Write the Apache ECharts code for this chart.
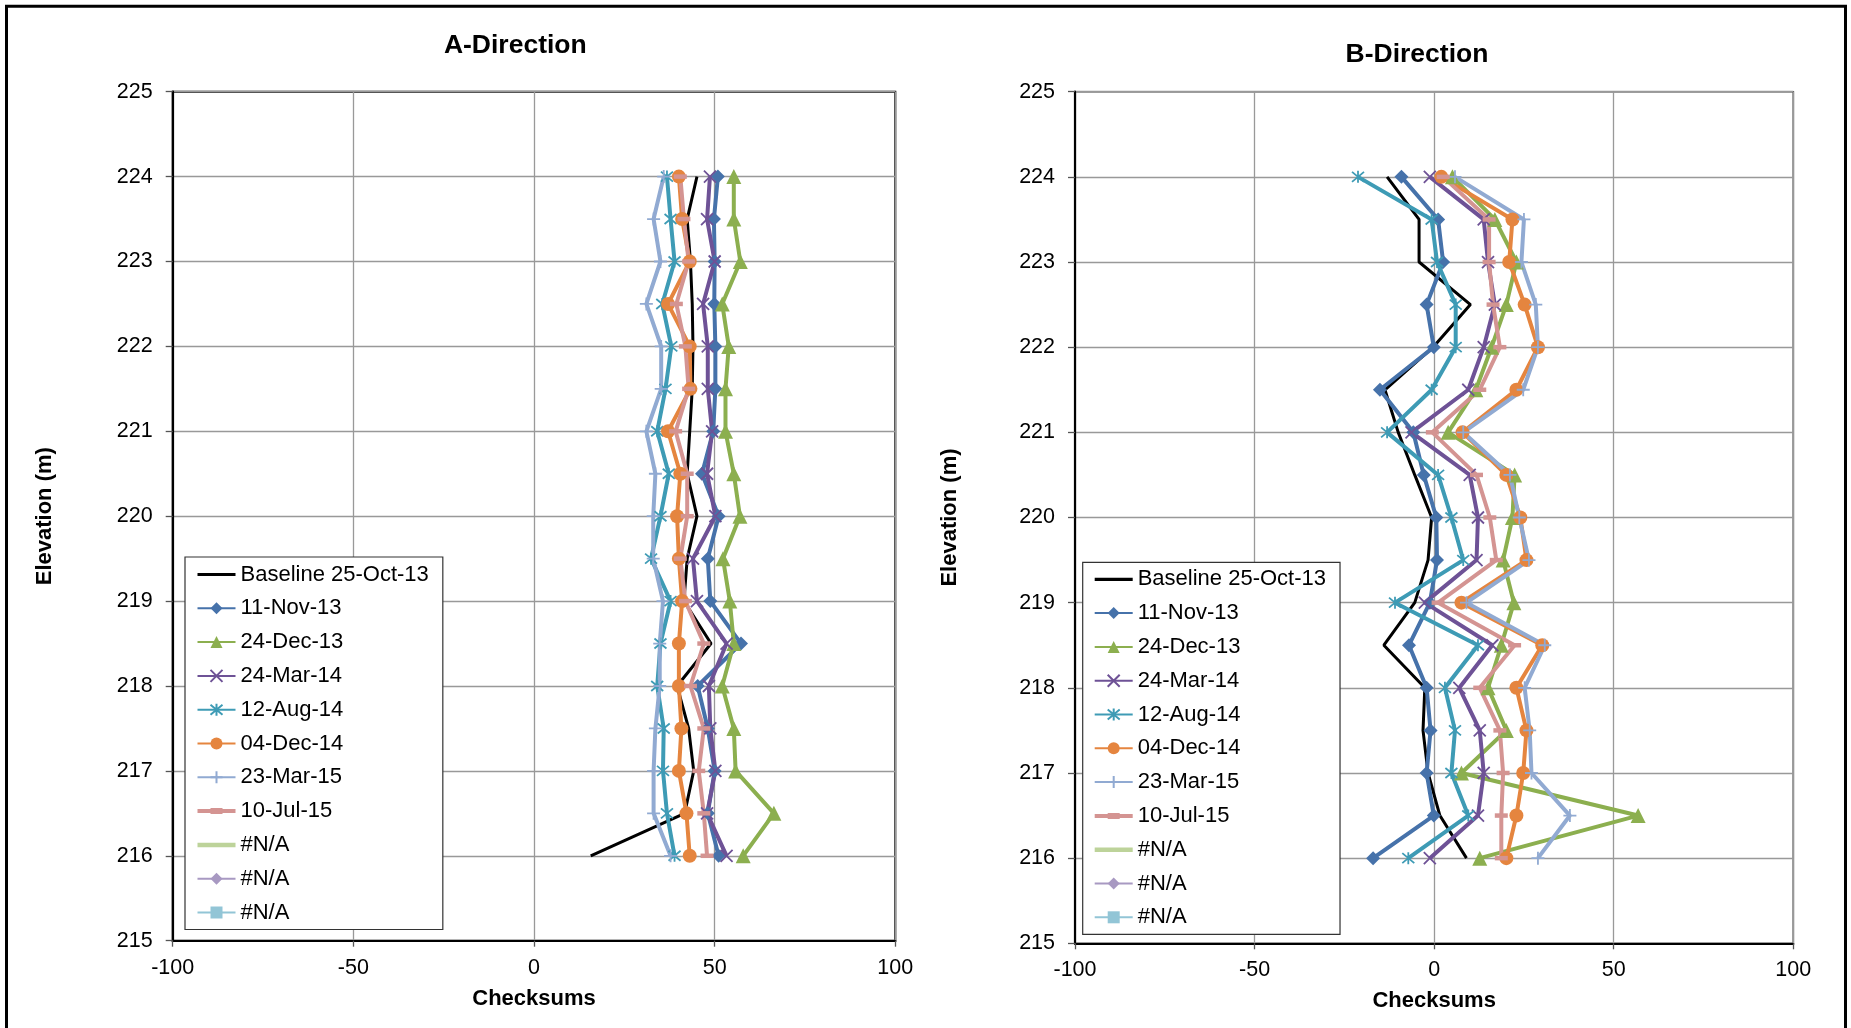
<!DOCTYPE html>
<html>
<head>
<meta charset="utf-8">
<script src="https://cdn.jsdelivr.net/npm/echarts@6/dist/echarts.min.js"></script>
<style>
html,body{margin:0;padding:0;background:#fff;}
#chart{width:1851px;height:1028px;}
</style>
</head>
<body>
<div id="chart"></div>
<script>
// ---------- DATA ----------
const elevations = [224, 223.5, 223, 222.5, 222, 221.5, 221, 220.5, 220, 219.5, 219, 218.5, 218, 217.5, 217, 216.5, 216];
const seriesNames = ['Baseline 25-Oct-13', '11-Nov-13', '24-Dec-13', '24-Mar-14', '12-Aug-14', '04-Dec-14', '23-Mar-15', '10-Jul-15', '#N/A', '#N/A ', '#N/A  '];
const xTicks = [-100, -50, 0, 50, 100];
const yTicks = [215, 216, 217, 218, 219, 220, 221, 222, 223, 224, 225];

// A-Direction
const aBaseline = [45.1, 42.4, 43.3, 43.8, 44.0, 43.8, 43.1, 42.4, 45.1, 42.4, 41.5, 49.0, 39.6, 42.8, 44.2, 41.7, 15.7];
const aNov13    = [50.9, 49.8, 50.0, 49.9, 50.2, 50.2, 49.6, 46.5, 51.1, 48.1, 48.8, 57.3, 45.3, 48.1, 50.0, 48.1, 51.1];
const aDec13    = [55.3, 55.3, 57.1, 52.1, 53.9, 53.0, 53.0, 55.3, 57.0, 52.3, 54.2, 55.3, 52.1, 55.3, 55.8, 66.4, 57.9];
const aMar14    = [48.7, 47.9, 50.0, 46.8, 48.1, 48.1, 49.3, 47.9, 50.2, 44.0, 45.1, 53.3, 48.4, 48.8, 50.2, 47.9, 53.3];
const aAug14    = [36.8, 37.8, 38.9, 35.5, 38.0, 36.4, 34.1, 37.3, 35.0, 32.4, 37.8, 35.0, 34.1, 35.9, 35.7, 36.8, 38.9];
const aDec14    = [40.1, 41.0, 43.1, 37.1, 43.1, 43.3, 37.1, 40.5, 39.6, 40.1, 41.0, 40.1, 40.1, 40.8, 40.1, 42.2, 43.1];
const aMar15    = [35.9, 33.1, 35.0, 31.1, 35.2, 35.2, 31.1, 33.6, 33.0, 33.0, 35.7, 34.8, 34.8, 33.6, 33.1, 33.1, 37.8];
const aJul15    = [40.5, 41.5, 42.8, 39.4, 41.9, 42.8, 39.2, 42.4, 42.4, 40.5, 41.9, 47.0, 43.3, 47.0, 45.6, 47.0, 47.9];

// B-Direction
const bBaseline = [-13.1, -4.2, -4.2, 10.1, -0.3, -13.7, -10.0, -5.4, -0.7, -1.7, -5.4, -14.0, -2.6, -3.1, -1.7, 1.6, 9.0];
const bNov13    = [-9.1, 1.1, 2.5, -2.1, -0.1, -15.1, -5.8, -2.9, 0.6, 0.8, -1.2, -7.0, -2.1, -1.0, -2.1, -0.1, -17.0];
const bDec13    = [5.1, 16.9, 22.9, 20.1, 16.0, 11.6, 3.9, 22.4, 21.8, 19.2, 22.2, 18.7, 15.0, 20.1, 7.6, 56.8, 12.7];
const bMar14    = [-1.2, 13.8, 15.0, 16.9, 13.8, 9.5, -6.3, 9.9, 12.2, 11.8, -2.6, 16.2, 7.0, 12.7, 13.8, 12.2, -1.2];
const bAug14    = [-21.2, -0.7, 0.8, 6.0, 6.0, -0.7, -13.1, 1.1, 4.8, 8.1, -10.9, 12.2, 3.0, 5.8, 4.8, 9.5, -7.2];
const bDec14    = [2.0, 21.8, 20.9, 25.2, 28.9, 22.9, 7.9, 20.1, 24.0, 25.7, 7.6, 30.1, 22.9, 25.7, 24.8, 22.9, 20.1];
const bMar15    = [5.8, 25.0, 24.3, 28.3, 28.9, 24.8, 8.1, 21.1, 23.7, 26.4, 9.0, 30.8, 25.2, 26.6, 27.1, 37.8, 28.9];
const bJul15    = [2.5, 15.3, 15.3, 16.4, 18.3, 12.7, -0.5, 11.8, 15.5, 17.3, 1.1, 22.4, 12.7, 18.3, 19.2, 18.7, 18.7];

const aSeries = [aBaseline, aNov13, aDec13, aMar14, aAug14, aDec14, aMar15, aJul15, [], [], []];
const bSeries = [bBaseline, bNov13, bDec13, bMar14, bAug14, bDec14, bMar15, bJul15, [], [], []];

// ---------- STYLE ----------
const FONT = 'Liberation Sans, Arial, sans-serif';
const colors = ['#000000', '#4672AA', '#8CAF4F', '#6E5296', '#3E9BB5', '#E5853F', '#91AAD2', '#D49492', '#BDD39A', '#A899C2', '#92C5D6'];
const symbols = ['none', 'diamond', 'triangle', 'path://M0,0L10,10M10,0L0,10', 'path://M0,0L10,10M10,0L0,10M5,-1L5,11', 'circle',
                 'path://M5,0L5,10M0,5L10,5', 'rect', 'none', 'diamond', 'rect'];
const symbolSizes = [0, 14, 15, 12, 12, 14, 13, [13, 4.5], 0, 14, 13];
const lineWidths = [3, 4, 4, 4, 4, 4, 4, 4, 4, 4, 4];
const strokeSym = [false, false, false, true, true, false, true, false, false, false, false];

function buildSeries(vals, gi) {
  return vals.map((arr, k) => ({
    type: 'line',
    name: seriesNames[k],
    xAxisIndex: gi, yAxisIndex: gi,
    data: arr.map((v, i) => [v, elevations[i]]),
    symbol: symbols[k],
    symbolSize: symbolSizes[k],
    showSymbol: symbols[k] !== 'none',
    lineStyle: { color: colors[k], width: lineWidths[k] },
    itemStyle: strokeSym[k]
      ? { color: colors[k], borderColor: colors[k], borderWidth: 1.8 }
      : { color: colors[k], borderWidth: 0 },
    emphasis: { disabled: true },
    silent: true,
    animation: false
  }));
}

function legendData() {
  return seriesNames.map((n, k) => {
    if (k === 0) return { name: n, icon: 'path://M0,0h38v3.2H0z' };
    if (k === 7) return { name: n, icon: 'path://M0,1h38v4H0z M13,0h12v6H13z' };
    if (k === 8) return { name: n, icon: 'path://M0,0h38v4.5H0z' };
    return { name: n };
  });
}

function mkLegend(left, top, pad) {
  return {
    orient: 'vertical', left: left, top: top,
    data: legendData(),
    formatter: n => n.trim(),
    itemWidth: 38, itemHeight: 15, itemGap: 9.8,
    padding: pad,
    borderColor: '#333', borderWidth: 1.2,
    backgroundColor: '#fff',
    selectedMode: false,
    textStyle: { fontFamily: FONT, fontSize: 22, color: '#000', lineHeight: 24 }
  };
}

function mkX(gi, nameGap, labelMargin) {
  return {
    type: 'value', gridIndex: gi, min: -100, max: 100, interval: 50,
    name: 'Checksums', nameLocation: 'middle', nameGap: nameGap,
    nameTextStyle: { fontFamily: FONT, fontSize: 22, fontWeight: 'bold', color: '#000' },
    axisLine: { show: true, onZero: false, lineStyle: { color: '#000', width: 2.2 } },
    axisTick: { show: true, length: 6, lineStyle: { color: '#555', width: 1.3 } },
    axisLabel: { fontFamily: FONT, fontSize: 21.5, color: '#000', margin: labelMargin },
    splitLine: { show: true, lineStyle: { color: '#999', width: 1.3 } }
  };
}
function mkY(gi, nameGap) {
  return {
    type: 'value', gridIndex: gi, min: 215, max: 225, interval: 1,
    name: 'Elevation (m)', nameLocation: 'middle', nameGap: nameGap, nameRotate: 90,
    nameTextStyle: { fontFamily: FONT, fontSize: 22, fontWeight: 'bold', color: '#000' },
    axisLine: { show: true, onZero: false, lineStyle: { color: '#000', width: 2.2 } },
    axisTick: { show: true, length: 7, lineStyle: { color: '#555', width: 1.3 } },
    axisLabel: { fontFamily: FONT, fontSize: 21.5, color: '#000', margin: 20 },
    splitLine: { show: true, lineStyle: { color: '#999', width: 1.3 } }
  };
}

const option = {
  animation: false,
  backgroundColor: '#fff',
  title: [
    { text: 'A-Direction', left: 515.3, top: 46, textAlign: 'center', textVerticalAlign: 'middle', padding: 0,
      textStyle: { fontFamily: FONT, fontSize: 26.5, fontWeight: 'bold', color: '#000' } },
    { text: 'B-Direction', left: 1417, top: 54.5, textAlign: 'center', textVerticalAlign: 'middle', padding: 0,
      textStyle: { fontFamily: FONT, fontSize: 26.5, fontWeight: 'bold', color: '#000' } }
  ],
  grid: [
    { left: 172.7, top: 91.7, width: 722.6, height: 849, show: true, borderColor: '#000', borderWidth: 2, backgroundColor: 'transparent' },
    { left: 1075, top: 91.7, width: 718.3, height: 851.6, show: true, borderColor: '#404040', borderWidth: 1.6, backgroundColor: 'transparent' }
  ],
  xAxis: [mkX(0, 47.5, 16), mkX(1, 47, 16)],
  yAxis: [mkY(0, 117), mkY(1, 114)],
  legend: [mkLegend(185, 557, [5.5, 14, 5, 11.5]), mkLegend(1082.7, 562.3, [5, 14, 5, 11])],
  graphic: [
    { type: 'rect', silent: true, z: 100,
      shape: { x: 6.5, y: 6.3, width: 1839, height: 1100 },
      style: { fill: 'none', stroke: '#000', lineWidth: 3 } }
  ],
  series: buildSeries(aSeries, 0).concat(buildSeries(bSeries, 1))
};

const chart = echarts.init(document.getElementById('chart'), null, { renderer: 'canvas' });
chart.setOption(option);
</script>
</body>
</html>
